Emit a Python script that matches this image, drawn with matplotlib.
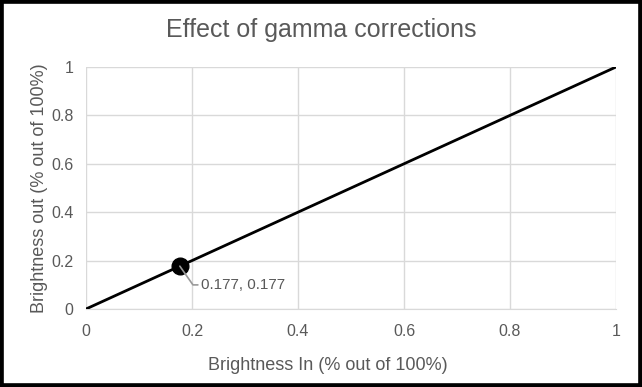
import matplotlib
matplotlib.use("Agg")
import matplotlib.pyplot as plt
from matplotlib.patches import Rectangle

plt.rcParams['font.family'] = ['Liberation Sans', 'DejaVu Sans']

brightness_in = [0, 1]
brightness_out = [0, 1]
point_x = [0.177]
point_y = [0.177]
point_label = "0.177, 0.177"
ticks = [0, 0.2, 0.4, 0.6, 0.8, 1]
tick_labels = ["0", "0.2", "0.4", "0.6", "0.8", "1"]

gray = "#595959"
grid_gray = "#d9d9d9"

fig = plt.figure(figsize=(6.42, 3.87), dpi=100)
ax = fig.add_axes([0.134, 0.2016, 0.8255, 0.6253])

ax.plot(brightness_in, brightness_out, color="black", lw=2, zorder=3)
ax.plot(point_x, point_y, "o", color="black", ms=12, zorder=4)

ax.annotate(point_label, xy=(point_x[0], point_y[0]), xytext=(15, -13.5),
            textcoords="offset points", fontsize=11, color=gray,
            va="center", ha="left",
            arrowprops=dict(arrowstyle="-", color="#999999", lw=1.2,
                            connectionstyle="angle,angleA=0,angleB=125,rad=0",
                            shrinkA=0, shrinkB=0,
                            relpos=(0, 0.5)),
            zorder=5)

ax.set_xlim(0, 1)
ax.set_ylim(0, 1)
ax.set_xticks(ticks)
ax.set_xticklabels(tick_labels)
ax.set_yticks(ticks)
ax.set_yticklabels(tick_labels)
ax.grid(True, color=grid_gray, lw=1)
ax.set_axisbelow(True)
ax.tick_params(length=0, labelsize=11.5, labelcolor=gray)
ax.tick_params(axis="x", pad=11)
ax.tick_params(axis="y", pad=9)
for side in ["top", "right", "left"]:
    ax.spines[side].set_visible(False)
ax.spines["bottom"].set_color(grid_gray)

fig.text(0.5, 1 - 30 / 387, "Effect of gamma corrections", fontsize=18,
         color=gray, ha="center", va="center")
ax.set_xlabel("Brightness In (% out of 100%)", fontsize=13, color=gray, labelpad=8)
ax.xaxis.set_label_coords(0.457, -0.2)
ax.set_ylabel("Brightness out (% out of 100%)", fontsize=13, color=gray, labelpad=2)

fig.patches.append(Rectangle((0, 0), 1, 1, transform=fig.transFigure,
                             fill=False, edgecolor="black", lw=5.5))

fig.savefig("out.png", dpi=100)
